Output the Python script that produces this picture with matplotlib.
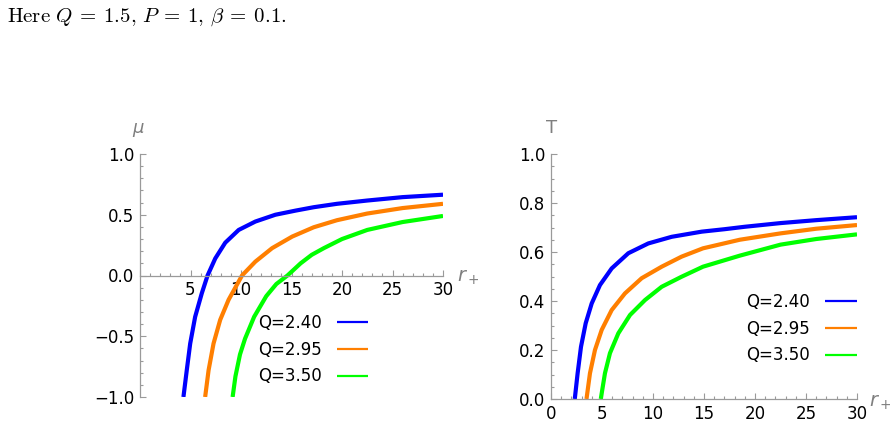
import matplotlib
matplotlib.use("Agg")
import matplotlib.pyplot as plt
from matplotlib.ticker import MultipleLocator

plt.rcParams['font.family'] = ['DejaVu Sans']
plt.rcParams['mathtext.fontset'] = 'dejavusans'

# ---- data ----
labels = ["Q=2.40", "Q=2.95", "Q=3.50"]
colors = ["#0000ff", "#ff7f00", "#00ff00"]

# chemical potential mu(r+)
mu_r_blue = [4.3, 4.63, 4.97, 5.46, 6.12, 6.69, 7.45, 8.44, 9.77, 11.42, 13.4, 15.4, 17.2, 19.5, 22.5, 26, 30]
mu_blue = [-1.0, -0.78, -0.56, -0.34, -0.146, 0.0, 0.14, 0.27, 0.375, 0.444, 0.50, 0.534, 0.562, 0.59, 0.617, 0.645, 0.665]
mu_r_orange = [6.45, 6.79, 7.28, 7.94, 8.77, 10.1, 11.42, 13.08, 15.06, 17.2, 19.5, 22.5, 26, 30]
mu_orange = [-1.0, -0.78, -0.56, -0.365, -0.20, 0.0, 0.114, 0.225, 0.32, 0.397, 0.455, 0.51, 0.555, 0.59]
mu_r_green = [9.17, 9.45, 9.9, 10.4, 11.3, 12.5, 13.5, 14.6, 15.9, 17.0, 18.2, 20, 22.5, 26, 30]
mu_green = [-1.0, -0.83, -0.65, -0.52, -0.34, -0.17, -0.07, 0.0, 0.10, 0.17, 0.225, 0.30, 0.375, 0.44, 0.49]

# temperature T(r+)
t_r_blue = [2.33, 2.61, 2.94, 3.4, 3.99, 4.8, 5.95, 7.58, 9.54, 11.83, 14.77, 17, 19, 22.5, 26, 30]
t_blue = [0.0, 0.105, 0.213, 0.309, 0.39, 0.465, 0.533, 0.595, 0.635, 0.662, 0.683, 0.693, 0.703, 0.718, 0.73, 0.742]
t_r_orange = [3.48, 3.82, 4.31, 4.97, 5.95, 7.25, 8.89, 10.85, 12.8, 14.9, 18.5, 22.5, 26, 30]
t_orange = [0.0, 0.105, 0.20, 0.282, 0.363, 0.431, 0.493, 0.54, 0.581, 0.615, 0.65, 0.676, 0.695, 0.71]
t_r_green = [4.88, 5.29, 5.78, 6.6, 7.75, 9.22, 10.85, 12.8, 14.9, 18.5, 22.5, 26, 30]
t_green = [0.0, 0.105, 0.187, 0.268, 0.343, 0.404, 0.458, 0.499, 0.54, 0.585, 0.63, 0.653, 0.672]

x_ticks = [0, 5, 10, 15, 20, 25, 30]
mu_ticks = [-1.0, -0.5, 0.0, 0.5, 1.0]
t_ticks = [0.0, 0.2, 0.4, 0.6, 0.8, 1.0]

AXIS_GRAY = "#9a9a9a"
LABEL_GRAY = "#7f7f7f"

fig = plt.figure(figsize=(8.94, 4.29), dpi=100)
fig.text(7 / 894, 1 - 17 / 429, r'$\mathrm{Here}\ Q\:=\:1.5,\,P\:=\:1,\,\beta\:=\:0.1.$',
         fontsize=15, math_fontfamily='cm', va='center', ha='left')


def style_axes(ax, ymin, ymax, yticks, ylabel, xlab_pos, ylab_pos, yminor):
    ax.set_xlim(0, 30)
    ax.set_ylim(ymin, ymax)
    for side in ("top", "right"):
        ax.spines[side].set_visible(False)
    ax.spines["left"].set_position(("data", 0))
    ax.spines["bottom"].set_position(("data", 0))
    for side in ("left", "bottom"):
        ax.spines[side].set_color(AXIS_GRAY)
        ax.spines[side].set_linewidth(0.9)
    ax.set_xticks(x_ticks)
    ax.set_yticks(yticks)
    ax.set_yticklabels([f"{v:.1f}".replace("-", "\u2212") for v in yticks])
    ax.xaxis.set_minor_locator(MultipleLocator(1))
    ax.yaxis.set_minor_locator(MultipleLocator(yminor))
    ax.tick_params(which="both", direction="in", color=AXIS_GRAY, labelsize=12,
                   labelcolor="black", width=0.8)
    ax.tick_params(which="major", length=4, pad=4)
    ax.tick_params(which="minor", length=2.2)
    ax.patch.set_alpha(0)
    ax.set_xlabel(r"$r_+$", color=LABEL_GRAY, fontsize=14)
    ax.xaxis.set_label_coords(*xlab_pos)
    ax.set_ylabel(ylabel, color=LABEL_GRAY, fontsize=13, rotation=0)
    ax.yaxis.set_label_coords(*ylab_pos)


# left panel: mu
ax1 = fig.add_axes([140 / 894, 1 - 397 / 429, 303 / 894, 243 / 429])
for xs, ys, c, lab in zip([mu_r_blue, mu_r_orange, mu_r_green],
                          [mu_blue, mu_orange, mu_green], colors, labels):
    ax1.plot(xs, ys, color=c, lw=3, label=lab, solid_capstyle="butt",
             solid_joinstyle="round")
style_axes(ax1, -1.0, 1.0, mu_ticks, r"$\mu$", (1.085, 0.53), (-0.005, 1.06), 0.1)
ax1.set_xticklabels(["" if v == 0 else str(v) for v in x_ticks])

# right panel: T
ax2 = fig.add_axes([551 / 894, 1 - 399 / 429, 306 / 894, 245 / 429])
for xs, ys, c, lab in zip([t_r_blue, t_r_orange, t_r_green],
                          [t_blue, t_orange, t_green], colors, labels):
    ax2.plot(xs, ys, color=c, lw=3, label=lab, solid_capstyle="butt",
             solid_joinstyle="round")
style_axes(ax2, 0.0, 1.0, t_ticks, "T", (1.075, 0.025), (0.003, 1.07), 0.05)
ax2.set_xticklabels([str(v) for v in x_ticks])

leg_kw = dict(frameon=False, markerfirst=False, fontsize=12, handlelength=1.9,
              handletextpad=0.9, labelspacing=0.52, borderpad=0, borderaxespad=0)
h1, l1 = ax1.get_legend_handles_labels()
leg1 = fig.legend(h1, l1, loc="upper left", bbox_to_anchor=(258 / 894, 1 - 314 / 429), **leg_kw)
h2, l2 = ax2.get_legend_handles_labels()
leg2 = fig.legend(h2, l2, loc="upper right", bbox_to_anchor=(857 / 894, 1 - 293 / 429), **leg_kw)
for leg in (leg1, leg2):
    for line in leg.get_lines():
        line.set_linewidth(1.6)

fig.savefig("out.png", dpi=100, facecolor="white")
